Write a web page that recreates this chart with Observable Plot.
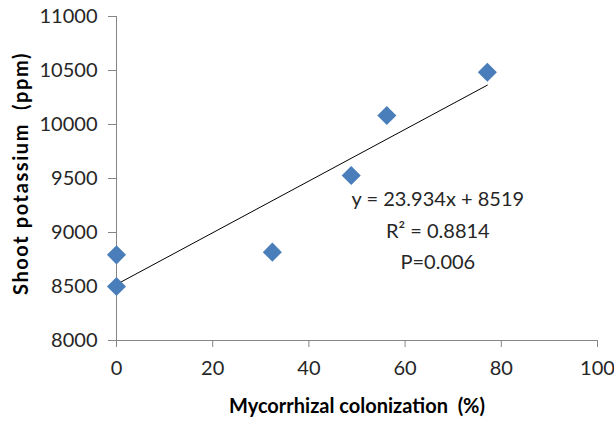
<!DOCTYPE html>
<html>
<head>
<meta charset="utf-8">
<script src="https://cdn.jsdelivr.net/npm/d3@7"></script>
<script src="https://cdn.jsdelivr.net/npm/@observablehq/plot@0.6"></script>
<style>
  html, body { margin: 0; padding: 0; background: #fff; }
  #chart svg { display: block; }
</style>
</head>
<body>
<div id="chart"></div>
<script>
// Data
const colonization = [0, 0, 32.4, 48.8, 56.2, 77.1];
const potassium = [8793, 8500, 8818, 9528, 10083, 10484];
const xTicks = [0, 20, 40, 60, 80, 100];
const yTicks = [8000, 8500, 9000, 9500, 10000, 10500, 11000];
const slope = 23.934;
const intercept = 8519;
const annotation = ["y = 23.934x + 8519", "R² = 0.8814", "P=0.006"];
const xTitle = "Mycorrhizal colonization  (%)";
const yTitle = "Shoot potassium  (ppm)";

const points = colonization.map((c, i) => ({x: c, y: potassium[i]}));
const xMin = d3.min(colonization), xMax = d3.max(colonization);
const trend = [xMin, xMax].map(x => ({x, y: slope * x + intercept}));

const font = "Lato, 'Open Sans', sans-serif";
const axisGray = "#868686";
const textColor = "#262626";

const chart = Plot.plot({
  width: 614,
  height: 429,
  marginLeft: 116,
  marginRight: 17,
  marginTop: 16,
  marginBottom: 89,
  style: {fontFamily: font, background: "#fff"},
  x: {domain: [0, 100], label: null},
  y: {domain: [8000, 11000], label: null},
  marks: [
    Plot.ruleX([0], {stroke: axisGray, strokeWidth: 1}),
    Plot.ruleY([8000], {stroke: axisGray, strokeWidth: 1}),
    Plot.axisX({ticks: xTicks, label: null, tickSize: 7, tickPadding: 13, stroke: axisGray, fill: textColor, fontSize: 20, tickFormat: d => String(d)}),
    Plot.axisY({ticks: yTicks, label: null, tickSize: 8, tickPadding: 11, stroke: axisGray, fill: textColor, fontSize: 20, tickFormat: d => String(d)}),
    Plot.line(trend, {x: "x", y: "y", stroke: "#000", strokeWidth: 1}),
    Plot.dot(points, {x: "x", y: "y", symbol: "diamond2", r: 8.6, fill: "#4a7ebb", stroke: "none"}),
    Plot.text([annotation.join("\n")], {x: 66.8, y: 9046, lineAnchor: "middle", lineHeight: 1.58, fontSize: 20, fill: textColor, fontFamily: font}),
    Plot.text([xTitle], {frameAnchor: "bottom", dy: 72, textAnchor: "middle", fontSize: 20, fontWeight: "bold", fill: "#000", fontFamily: font}),
    Plot.text([yTitle], {frameAnchor: "left", textAnchor: "middle", dx: -95, dy: -5, rotate: -90, fontSize: 20, fontWeight: "bold", fill: "#000", fontFamily: font})
  ]
});
d3.select(chart).selectAll("text")
  .filter(function () { return this.textContent === yTitle; })
  .style("letter-spacing", "1.6px");
document.getElementById("chart").appendChild(chart);
</script>
</body>
</html>
